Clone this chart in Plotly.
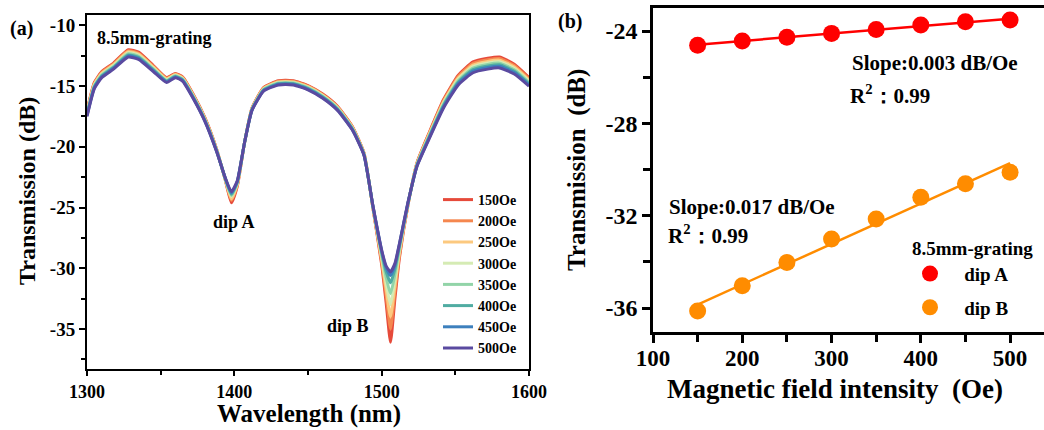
import numpy as np
import plotly.graph_objects as go

# ---------------- Panel (a): transmission spectra ----------------
wavelength = [1300, 1305, 1310, 1318, 1328, 1335, 1345, 1354, 1360, 1365, 1372, 1380, 1388, 1394,
              1398, 1402, 1407, 1412, 1420, 1430, 1440, 1450, 1460, 1470, 1480, 1488, 1494, 1500,
              1503, 1506, 1509, 1512, 1518, 1524, 1532, 1542, 1552, 1562, 1572, 1580, 1590, 1600]

field_labels = ["150Oe", "200Oe", "250Oe", "300Oe", "350Oe", "400Oe", "450Oe", "500Oe"]

T150 = [-17.0, -14.7, -13.8, -13.1, -12.0, -12.2, -13.3, -14.3, -13.95, -14.25, -15.65, -17.6, -20.2, -22.8,
        -24.6, -23.25, -19.6, -16.8, -15.1, -14.55, -14.55, -14.95, -15.65, -16.65, -18.3, -20.5, -25.0, -29.7,
        -32.8, -36.1, -32.5, -29.2, -24.7, -21.3, -18.9, -16.1, -14.1, -13.0, -12.7, -12.6, -13.2, -14.3]
T200 = [-17.07, -14.77, -13.87, -13.17, -12.09, -12.29, -13.37, -14.36, -14.0, -14.3, -15.7, -17.64, -20.23, -22.77,
        -24.4, -23.15, -19.6, -16.83, -15.14, -14.6, -14.6, -15.0, -15.7, -16.7, -18.34, -20.53, -24.97, -29.47,
        -32.23, -35.0, -31.95, -28.97, -24.67, -21.34, -18.97, -16.2, -14.21, -13.13, -12.83, -12.73, -13.31, -14.4]
T250 = [-17.14, -14.84, -13.94, -13.24, -12.17, -12.37, -13.44, -14.41, -14.05, -14.35, -15.75, -17.69, -20.26, -22.74,
        -24.3, -23.1, -19.6, -16.86, -15.19, -14.65, -14.65, -15.05, -15.75, -16.75, -18.39, -20.56, -24.94, -29.27,
        -31.72, -34.0, -31.46, -28.77, -24.64, -21.39, -19.04, -16.3, -14.33, -13.26, -12.96, -12.86, -13.43, -14.5]
T300 = [-17.21, -14.91, -14.01, -13.31, -12.26, -12.46, -13.51, -14.47, -14.1, -14.4, -15.8, -17.73, -20.29, -22.71,
        -24.1, -23.0, -19.6, -16.89, -15.23, -14.7, -14.7, -15.1, -15.8, -16.8, -18.43, -20.59, -24.91, -29.06,
        -31.21, -33.0, -30.96, -28.56, -24.61, -21.43, -19.11, -16.4, -14.44, -13.39, -13.09, -12.99, -13.54, -14.6]
T350 = [-17.29, -14.99, -14.09, -13.39, -12.34, -12.54, -13.59, -14.53, -14.15, -14.45, -15.85, -17.77, -20.31, -22.69,
        -24.0, -22.95, -19.6, -16.91, -15.27, -14.75, -14.75, -15.15, -15.85, -16.85, -18.47, -20.61, -24.89, -28.87,
        -30.73, -32.1, -30.5, -28.37, -24.59, -21.47, -19.19, -16.5, -14.56, -13.51, -13.21, -13.11, -13.66, -14.7]
T400 = [-17.36, -15.06, -14.16, -13.46, -12.43, -12.63, -13.66, -14.59, -14.2, -14.5, -15.9, -17.81, -20.34, -22.66,
        -23.9, -22.9, -19.6, -16.94, -15.31, -14.8, -14.8, -15.2, -15.9, -16.9, -18.51, -20.64, -24.86, -28.69,
        -30.27, -31.2, -30.05, -28.19, -24.56, -21.51, -19.26, -16.6, -14.67, -13.64, -13.34, -13.24, -13.77, -14.8]
T450 = [-17.43, -15.13, -14.23, -13.53, -12.51, -12.71, -13.73, -14.64, -14.25, -14.55, -15.95, -17.86, -20.37, -22.63,
        -23.8, -22.85, -19.6, -16.97, -15.36, -14.85, -14.85, -15.25, -15.95, -16.95, -18.56, -20.67, -24.83, -28.56,
        -29.95, -30.6, -29.75, -28.06, -24.53, -21.56, -19.33, -16.7, -14.79, -13.77, -13.47, -13.37, -13.89, -14.9]
T500 = [-17.5, -15.2, -14.3, -13.6, -12.6, -12.8, -13.8, -14.7, -14.3, -14.6, -16.0, -17.9, -20.4, -22.6,
        -23.7, -22.8, -19.6, -17.0, -15.4, -14.9, -14.9, -15.3, -16.0, -17.0, -18.6, -20.7, -24.8, -28.5,
        -29.8, -30.3, -29.6, -28.0, -24.5, -21.6, -19.4, -16.8, -14.9, -13.9, -13.6, -13.5, -14.0, -15.0]
spectra = [T150, T200, T250, T300, T350, T400, T450, T500]
spectra_colors = ["#e64a3a", "#f5874f", "#fcc97f", "#d5ebb4", "#92d4a8", "#50aca2", "#3d80bd", "#5a4aa0"]

xa_ticks = [1300, 1400, 1500, 1600]
xa_minor = [1350, 1450, 1550]
ya_ticks = [-10, -15, -20, -25, -30, -35]
ya_ticktext = ["-10", "-15", "-20", "-25", "-30", "-35"]
ya_minor = [-12.5, -17.5, -22.5, -27.5, -32.5, -37.5]

# ---------------- Panel (b): dip transmission vs field ----------------
field_oe = [150, 200, 250, 300, 350, 400, 450, 500]
dipA = [-24.61, -24.43, -24.27, -24.10, -23.93, -23.74, -23.60, -23.52]
dipB = [-36.13, -35.04, -34.03, -33.01, -32.14, -31.20, -30.62, -30.12]

xb_ticks = [100, 200, 300, 400, 500]
xb_minor = [150, 250, 350, 450]
yb_ticks = [-24, -28, -32, -36]
yb_ticktext = ["-24", "-28", "-32", "-36"]
yb_minor = [-26, -30, -34]

FONT = "Liberation Serif"
W, H = 1044, 430


def px(x):
    return x / W


def py(y):
    return 1 - y / H


fig = go.Figure()

for name, vals, col in zip(field_labels, spectra, spectra_colors):
    fig.add_trace(go.Scatter(
        x=wavelength, y=vals, mode="lines", name=name,
        line=dict(color=col, width=3, shape="spline", smoothing=0.5),
        xaxis="x", yaxis="y", legend="legend"))

# linear fits of the dip data
fx = np.array([min(field_oe), max(field_oe)])
for vals, col in ((dipA, "#ff0000"), (dipB, "#ff8c00")):
    k, b = np.polyfit(field_oe, vals, 1)
    fig.add_trace(go.Scatter(x=fx, y=k * fx + b, mode="lines", line=dict(color=col, width=2.5),
                             xaxis="x2", yaxis="y2", showlegend=False, hoverinfo="skip"))

fig.add_trace(go.Scatter(x=field_oe, y=dipA, mode="markers", name="\u00a0\u00a0\u00a0dip A",
                         marker=dict(color="#ff0000", size=17), xaxis="x2", yaxis="y2",
                         legend="legend2", legendgroup="A"))
fig.add_trace(go.Scatter(x=field_oe, y=dipB, mode="markers", name="\u00a0\u00a0\u00a0dip B",
                         marker=dict(color="#ff8c00", size=17), xaxis="x2", yaxis="y2",
                         legend="legend2", legendgroup="B"))

common = dict(showline=True, linecolor="black", showgrid=False, zeroline=False,
              ticks="outside", tickcolor="black", automargin=False)

fig.update_layout(
    width=W, height=H, autosize=False, margin=dict(l=0, r=0, t=0, b=0, pad=0, autoexpand=False),
    paper_bgcolor="white", plot_bgcolor="white",
    font=dict(family=FONT, color="black", weight="bold"),
    xaxis=dict(domain=[px(87), px(529)], range=[1300, 1600], anchor="y",
               tickvals=xa_ticks, ticktext=[str(v) for v in xa_ticks],
               tickfont=dict(size=18, family=FONT, weight="bold"),
               minor=dict(tickvals=xa_minor, ticks="outside", ticklen=4, tickwidth=2, tickcolor="black"),
               linewidth=2, mirror=True, ticklen=5, tickwidth=2, ticklabelstandoff=0, **common),
    yaxis=dict(domain=[py(369), py(14.5)], range=[-38.3, -9.1], anchor="x",
               tickvals=ya_ticks, ticktext=ya_ticktext,
               tickfont=dict(size=19, family=FONT, weight="bold"),
               minor=dict(tickvals=ya_minor, ticks="outside", ticklen=4, tickwidth=2, tickcolor="black"),
               linewidth=2, mirror=True, ticklen=6, tickwidth=2, **common),
    xaxis2=dict(domain=[px(653), 1.0], range=[100, 538], anchor="y2",
                tickvals=xb_ticks, ticktext=[str(v) for v in xb_ticks],
                tickfont=dict(size=23, family=FONT, weight="bold"),
                minor=dict(tickvals=xb_minor, ticks="outside", ticklen=7, tickwidth=2.5, tickcolor="black"),
                linewidth=2.5, mirror=True, ticklabelstandoff=-4, ticklen=8, tickwidth=2.5, **common),
    yaxis2=dict(domain=[py(332), py(8)], range=[-37.04, -23.0], anchor="x2",
                tickvals=yb_ticks, ticktext=yb_ticktext,
                tickfont=dict(size=24, family=FONT, weight="bold"),
                minor=dict(tickvals=yb_minor, ticks="outside", ticklen=7, tickwidth=2.5, tickcolor="black"),
                linewidth=2.5, mirror=False, ticklen=8, tickwidth=2.5, **common),
    legend=dict(x=px(438), y=py(184), xanchor="left", yanchor="top",
                font=dict(size=14, family=FONT, weight="bold", color="black"),
                bgcolor="rgba(0,0,0,0)", borderwidth=0, tracegroupgap=0),
    legend2=dict(x=px(910), y=py(230), xanchor="left", yanchor="top",
                 title=dict(text="8.5mm-grating", font=dict(size=19, family=FONT, weight="bold")),
                 font=dict(size=19, family=FONT, weight="bold", color="black"),
                 bgcolor="rgba(0,0,0,0)", borderwidth=0, tracegroupgap=6, itemsizing="trace"),
    showlegend=True,
)


def note(text, x, y, size, xanchor="left", angle=0):
    fig.add_annotation(text=text, x=px(x), y=py(y), xref="paper", yref="paper",
                       xanchor=xanchor, yanchor="middle", showarrow=False, textangle=angle,
                       font=dict(family=FONT, size=size, color="black", weight="bold"))


note("(a)", 8, 28, 20)
note("(b)", 556, 21, 20)
note("8.5mm-grating", 95, 38, 18)
note("dip A", 234, 222, 18, xanchor="center")
note("dip B", 348, 326, 18, xanchor="center")
note("Transmission (dB)", 27, 191, 24, xanchor="center", angle=-90)
note("Wavelength (nm)", 309, 414, 25, xanchor="center")
note("Transmission  (dB)", 577, 170, 25, xanchor="center", angle=-90)
note("Magnetic field intensity  (Oe)", 835, 389, 27, xanchor="center")
note("Slope:0.003 dB/Oe", 850, 63, 21)
note("R<sup>2</sup>：0.99", 848, 95, 21)
note("Slope:0.017 dB/Oe", 667, 207, 21)
note("R<sup>2</sup>：0.99", 666, 234, 21)

fig.write_html("out.html", config={"displayModeBar": False},
               post_script="document.body.style.margin='0';document.body.style.overflow='hidden';")
